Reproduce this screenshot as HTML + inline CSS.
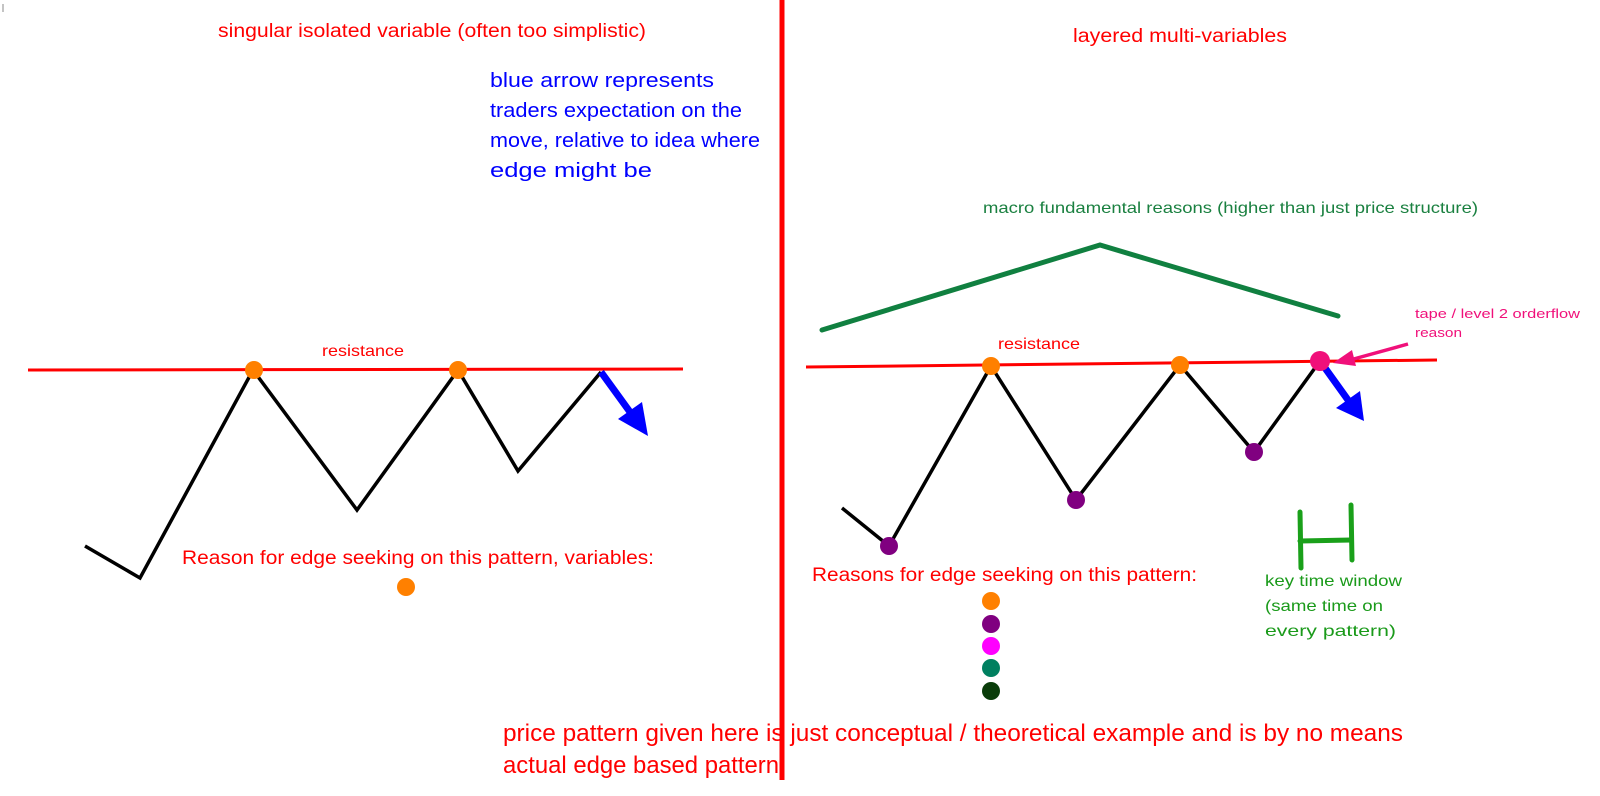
<!DOCTYPE html>
<html><head><meta charset="utf-8"><style>
html,body{margin:0;padding:0;background:#fff;width:1600px;height:796px;overflow:hidden}
svg text{font-family:"Liberation Sans",sans-serif}
</style></head><body>
<svg width="1600" height="796" xmlns="http://www.w3.org/2000/svg">
<line x1="3" y1="4" x2="3" y2="12" stroke="#888" stroke-width="1"/>
<!-- center divider -->
<line x1="782" y1="0" x2="782" y2="780" stroke="#f00" stroke-width="5"/>
<!-- left -->
<line x1="28" y1="370" x2="683" y2="369" stroke="#f00" stroke-width="3"/>
<polyline points="85,546 140,578 253,370 357,510 458,370 518,471 601,372" fill="none" stroke="#000" stroke-width="3.5"/>
<line x1="601" y1="372" x2="630" y2="412" stroke="#00f" stroke-width="7"/>
<polygon points="618,419 642,402 648,436" fill="#00f"/>
<circle cx="254" cy="370" r="9" fill="#ff8000"/>
<circle cx="458" cy="370" r="9" fill="#ff8000"/>
<circle cx="406" cy="587" r="9" fill="#ff8000"/>
<text x="218" y="37" font-size="19" fill="#f00" textLength="428" lengthAdjust="spacingAndGlyphs">singular isolated variable (often too simplistic)</text>
<g fill="#00f" font-size="20">
<text x="490" y="87" textLength="224" lengthAdjust="spacingAndGlyphs">blue arrow represents</text>
<text x="490" y="117" textLength="252" lengthAdjust="spacingAndGlyphs">traders expectation on the</text>
<text x="490" y="147" textLength="270" lengthAdjust="spacingAndGlyphs">move, relative to idea where</text>
<text x="490" y="177" textLength="162" lengthAdjust="spacingAndGlyphs">edge might be</text>
</g>
<text x="322" y="356" font-size="16" fill="#f00" textLength="82" lengthAdjust="spacingAndGlyphs">resistance</text>
<text x="182" y="564" font-size="19" fill="#f00" textLength="472" lengthAdjust="spacingAndGlyphs">Reason for edge seeking on this pattern, variables:</text>
<!-- right -->
<text x="1073" y="42" font-size="19" fill="#f00" textLength="214" lengthAdjust="spacingAndGlyphs">layered multi-variables</text>
<text x="983" y="213" font-size="16" fill="#1a8040" textLength="495" lengthAdjust="spacingAndGlyphs">macro fundamental reasons (higher than just price structure)</text>
<polyline points="822,330 1100,245 1338,316" fill="none" stroke="#108040" stroke-width="5" stroke-linecap="round"/>
<line x1="806" y1="367" x2="1437" y2="360" stroke="#f00" stroke-width="3"/>
<polyline points="842,508 889,546 991,366 1076,500 1180,365 1254,452 1320,361" fill="none" stroke="#000" stroke-width="3.5"/>
<line x1="1320" y1="361" x2="1348" y2="400" stroke="#00f" stroke-width="7"/>
<polygon points="1336,408 1360,391 1364,421" fill="#00f"/>
<line x1="1408" y1="344" x2="1350" y2="360" stroke="#f0107a" stroke-width="3.5"/>
<polygon points="1333,363 1352,350 1356,366" fill="#f0107a"/>
<circle cx="889" cy="546" r="9" fill="#800080"/>
<circle cx="1076" cy="500" r="9" fill="#800080"/>
<circle cx="1254" cy="452" r="9" fill="#800080"/>
<circle cx="991" cy="366" r="9" fill="#ff8000"/>
<circle cx="1180" cy="365" r="9" fill="#ff8000"/>
<circle cx="1320" cy="361" r="10" fill="#f0107a"/>
<text x="998" y="349" font-size="16" fill="#f00" textLength="82" lengthAdjust="spacingAndGlyphs">resistance</text>
<g fill="#f0107a" font-size="13">
<text x="1415" y="318" textLength="165" lengthAdjust="spacingAndGlyphs">tape / level 2 orderflow</text>
<text x="1415" y="337" textLength="47" lengthAdjust="spacingAndGlyphs">reason</text>
</g>
<g stroke="#1aa01a" stroke-width="5" stroke-linecap="round">
<line x1="1300" y1="512" x2="1301" y2="568"/>
<line x1="1351" y1="505" x2="1352" y2="560"/>
<line x1="1300" y1="541" x2="1351" y2="540"/>
</g>
<g fill="#1a9a1a" font-size="16">
<text x="1265" y="586" textLength="137" lengthAdjust="spacingAndGlyphs">key time window</text>
<text x="1265" y="611" textLength="118" lengthAdjust="spacingAndGlyphs">(same time on</text>
<text x="1265" y="636" textLength="131" lengthAdjust="spacingAndGlyphs">every pattern)</text>
</g>
<text x="812" y="581" font-size="19" fill="#f00" textLength="385" lengthAdjust="spacingAndGlyphs">Reasons for edge seeking on this pattern:</text>
<circle cx="991" cy="601" r="9" fill="#ff8000"/>
<circle cx="991" cy="624" r="9" fill="#800080"/>
<circle cx="991" cy="646" r="9" fill="#ff00ff"/>
<circle cx="991" cy="668" r="9" fill="#008060"/>
<circle cx="991" cy="691" r="9" fill="#0a3d0a"/>
<g fill="#f00" font-size="24">
<text x="503" y="741" textLength="900" lengthAdjust="spacingAndGlyphs">price pattern given here is just conceptual / theoretical example and is by no means</text>
<text x="503" y="773" textLength="276" lengthAdjust="spacingAndGlyphs">actual edge based pattern</text>
</g>
</svg>
</body></html>
